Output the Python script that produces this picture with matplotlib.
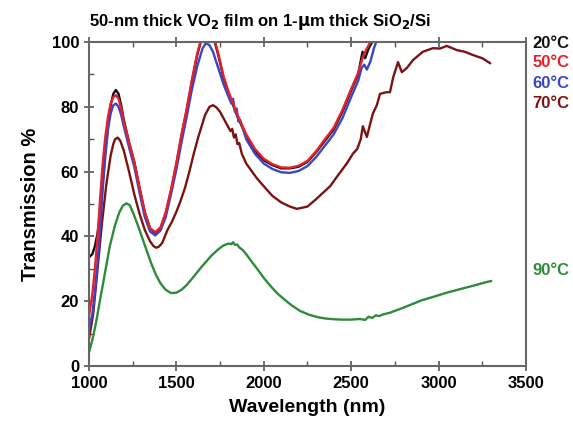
import matplotlib
matplotlib.use("Agg")
import matplotlib.pyplot as plt
from matplotlib.ticker import MultipleLocator

# wavelength grid (nm) shared by the 20/50 C curves
wl_low = [1000, 1020, 1035, 1050, 1065, 1080, 1095, 1110, 1125, 1140, 1155, 1170, 1185, 1200,
          1230, 1260, 1290, 1320, 1350, 1380, 1410, 1440, 1470, 1500, 1530, 1560, 1590, 1620,
          1650, 1680, 1710, 1740, 1770, 1800, 1850, 1900, 1950, 2000, 2050, 2100, 2150, 2200,
          2250, 2300, 2350, 2400, 2450, 2500, 2540, 2565, 2580, 2600, 2620, 2640]

t20 = [33.5, 34.5, 37, 41, 47, 57, 67, 75, 80.5, 84, 85.2, 84, 80.5, 76,
       69, 63, 55, 47.5, 42.5, 41, 42.5, 47, 54, 62, 71, 79, 88, 96,
       102, 104, 102, 96, 89, 84, 77, 71, 66.5, 63.5, 62, 61, 61, 61.5,
       63, 66, 69.5, 73, 78.5, 85, 90, 97, 95, 98, 100, 103]

t50 = [15, 22, 30, 40, 52, 63, 71, 77, 81, 83, 83.6, 82.5, 79.5, 75.5,
       69, 63, 55, 47.5, 42.5, 41.3, 42.8, 47.5, 54.5, 62.5, 71.5, 79.5, 88.5, 96.5,
       102.5, 104.5, 102.5, 96.5, 89.5, 84.5, 77.5, 71.5, 67, 64, 62.3, 61.3, 61.2, 61.8,
       63.3, 66.3, 70, 73.5, 79, 85.5, 90.5, 95, 97, 99, 101, 103]

wl_60 = [1000, 1020, 1035, 1050, 1065, 1080, 1095, 1110, 1125, 1140, 1155, 1170, 1185, 1200,
         1230, 1260, 1290, 1320, 1350, 1380, 1410, 1440, 1470, 1500, 1530, 1560, 1590, 1620,
         1650, 1670, 1690, 1710, 1740, 1770, 1800, 1815, 1825, 1835, 1845, 1855, 1865, 1880,
         1900, 1950, 2000, 2050, 2100, 2150, 2200, 2250, 2300, 2350, 2400, 2450, 2500, 2540,
         2560, 2575, 2590, 2610, 2630, 2650]
t60 = [11, 16, 23, 32, 43, 55, 65, 73, 78, 80.5, 81, 80, 77.5, 74,
       67.5, 61.5, 53.5, 46, 41.5, 40.3, 41.8, 46, 53, 60.5, 69, 77, 85.5, 92.5,
       98, 99.7, 99, 97, 92, 87, 83, 81, 82.5, 78.5, 79.5, 75.5, 76, 73.5,
       70, 65.5, 62.5, 60.8, 59.8, 59.6, 60.2, 61.7, 64.5, 68, 71.5, 76.5, 83, 88,
       92, 93, 91.5, 94, 98, 101]

wl_70 = [1000, 1025, 1050, 1075, 1100, 1125, 1140, 1150, 1165, 1180, 1200, 1230, 1260, 1290,
         1320, 1350, 1370, 1385, 1400, 1420, 1450, 1475, 1500, 1525, 1550, 1575, 1600, 1625,
         1645, 1665, 1690, 1710, 1730, 1750, 1770, 1790, 1810, 1820, 1830, 1840, 1850, 1860,
         1875, 1900, 1960, 2000, 2050, 2100, 2150, 2190, 2250, 2300, 2340, 2380, 2420, 2475,
         2510, 2535, 2555, 2567, 2590, 2610, 2625, 2647, 2665, 2700, 2722, 2740, 2768, 2790,
         2819, 2853, 2910, 2968, 3008, 3047, 3105, 3150, 3196, 3250, 3294]
t70 = [8, 16, 30, 44, 56, 65, 68.5, 70, 70.5, 69.5, 66.5, 60, 53, 47,
       42, 38.5, 37, 36.5, 36.8, 38, 42, 44.5, 47.5, 51, 55, 60, 65.5, 70.5,
       74, 77.5, 80, 80.5, 79.8, 78.5, 76.5, 74.5, 72.5, 73.2, 70.5, 71.5, 68.5, 68.8,
       65.5, 62.5, 58, 55.5, 52.5, 50.5, 49.2, 48.5, 49.2, 51.5, 53.5, 55.5, 58.5, 62.5,
       65.5, 67, 70, 74, 70.7, 75, 78, 80.5, 84, 84.5, 84.5, 89, 93.8, 90.7,
       92, 94.4, 97, 98.1, 98, 98.8, 97.5, 97, 96, 95, 93.5]

wl_90 = [1000, 1020, 1040, 1063, 1090, 1120, 1150, 1175, 1195, 1215, 1235, 1255, 1280, 1309,
         1335, 1358, 1385, 1410, 1440, 1470, 1500, 1530, 1560, 1600, 1645, 1700, 1740, 1770,
         1800, 1815, 1825, 1835, 1848, 1860, 1880, 1900, 1930, 1968, 2000, 2045, 2080, 2121,
         2160, 2207, 2260, 2312, 2360, 2407, 2450, 2500, 2550, 2580, 2600, 2620, 2640, 2660,
         2682, 2720, 2760, 2800, 2836, 2900, 2968, 3040, 3122, 3200, 3282, 3300]
t90 = [4, 8, 13, 20, 28, 37, 43.5, 47.5, 49.5, 50.2, 49.6, 47, 43.5, 39,
       35, 31.5, 28, 25.5, 23.5, 22.5, 22.6, 23.5, 25, 27.6, 30.6, 34, 36, 37.2,
       37.8, 37.6, 38.2, 37.4, 37.5, 36.6, 35.8, 34.5, 32.3, 29.6, 27.2, 24.3, 22.3, 20.4,
       18.7, 17, 15.8, 15, 14.6, 14.4, 14.3, 14.3, 14.5, 14.2, 15.2, 14.8, 15.6, 15.4,
       15.9, 16.4, 17.2, 18, 18.8, 20.2, 21.3, 22.5, 23.7, 24.8, 26, 26.2]

labels = ["20°C", "50°C", "60°C", "70°C", "90°C"]
label_y = [99.7, 93.8, 87.3, 80.9, 29.6]
colors = ["#111111", "#e8202a", "#3a45c8", "#7a1414", "#2e8b3a"]

plt.rcParams["font.family"] = ["Liberation Sans", "DejaVu Sans"]
plt.rcParams["font.weight"] = "bold"

fig = plt.figure(figsize=(5.73, 4.29), dpi=100)
ax = fig.add_axes([0.155, 0.147, 0.763, 0.755])

lw = 1.7
ax.plot(wl_low, t20, color=colors[0], lw=lw)
ax.plot(wl_70, t70, color=colors[3], lw=lw)
ax.plot(wl_90, t90, color=colors[4], lw=lw)
ax.plot(wl_60, t60, color=colors[2], lw=lw)
ax.plot(wl_low, t50, color=colors[1], lw=lw)

ax.set_xlim(1000, 3500)
ax.set_ylim(0, 100)
ax.xaxis.set_major_locator(MultipleLocator(500))
ax.xaxis.set_minor_locator(MultipleLocator(250))
ax.yaxis.set_major_locator(MultipleLocator(20))
ax.yaxis.set_minor_locator(MultipleLocator(10))

ax.tick_params(which="both", top=True, right=False, labelsize=12, colors="#555555",
               labelcolor="black")
ax.tick_params(which="major", direction="inout", length=7, width=1.2)
ax.tick_params(which="minor", direction="in", length=3.5, width=1.0)
for lbl in ax.get_xticklabels() + ax.get_yticklabels():
    lbl.set_fontweight("bold")
for sp in ax.spines.values():
    sp.set_color("#666666")
    sp.set_linewidth(1.5)

ax.set_xlabel("Wavelength (nm)", fontsize=14, fontweight="bold", labelpad=6)
ax.set_ylabel("Transmission %", fontsize=14.5, fontweight="bold", labelpad=8)

ax.text(0.0, 1.03, r"50-nm thick VO$_\mathbf{2}$ film on 1-$\mathbf{\mu}$m thick SiO$_\mathbf{2}$/Si",
        transform=ax.transAxes, fontsize=12, fontweight="bold", va="bottom", ha="left")

for lab, yv, c in zip(labels, label_y, colors):
    ax.text(1.015, yv, lab, transform=ax.get_yaxis_transform(), color=c,
            fontsize=12, fontweight="bold", va="center", ha="left")

fig.savefig("out.png", dpi=100)
